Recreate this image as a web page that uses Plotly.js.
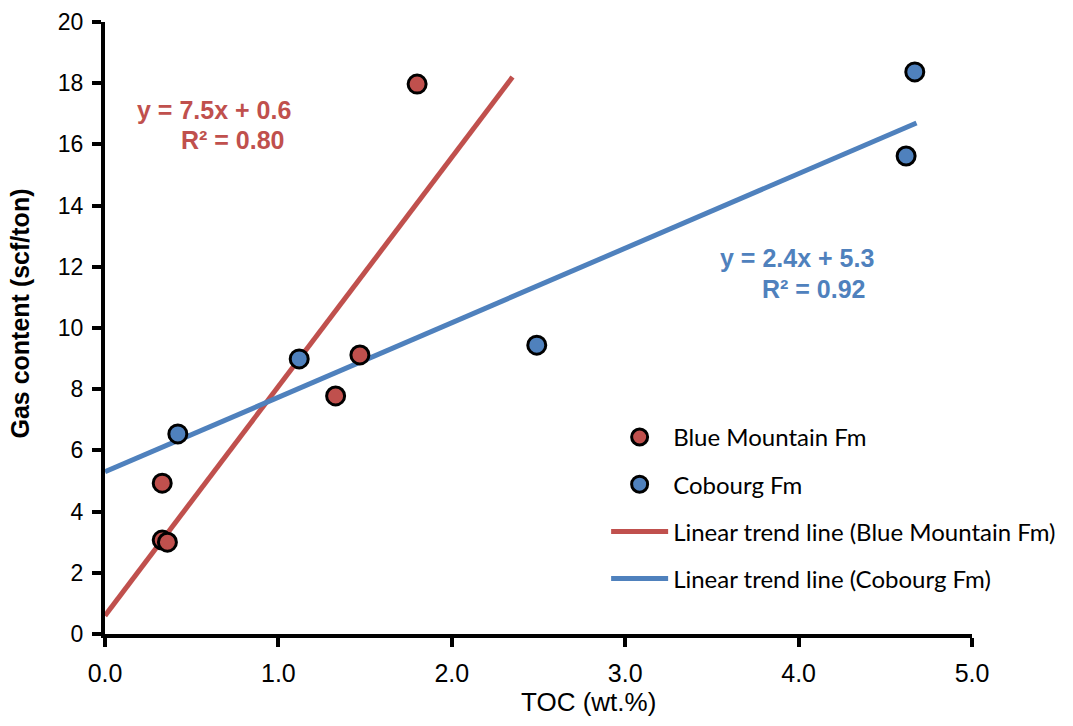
<!DOCTYPE html>
<html>
<head>
<meta charset="utf-8">
<script src="https://cdn.plot.ly/plotly-3.0.1.min.js"></script>
<style>html,body{margin:0;padding:0;background:#fff;}#chart{width:1073px;height:726px;}</style>
</head>
<body>
<div id="chart"></div>
<script>
// Blue Mountain Fm samples
const bmTOC = [0.33, 0.33, 0.36, 1.33, 1.47, 1.80];
const bmGas = [4.93, 3.07, 3.00, 7.78, 9.12, 17.97];
// Cobourg Fm samples
const cbTOC = [0.42, 1.12, 2.49, 4.62, 4.67];
const cbGas = [6.54, 8.99, 9.44, 15.62, 18.37];
// Trend lines (end points as drawn)
const bmTrendX = [0, 2.35];
const bmTrendY = [0.6, 18.2];
const cbTrendX = [0, 4.68];
const cbTrendY = [5.3, 16.7];
// Labels
const xTicks = [0, 1, 2, 3, 4, 5];
const xTickText = ["0.0", "1.0", "2.0", "3.0", "4.0", "5.0"];
const yTicks = [0, 2, 4, 6, 8, 10, 12, 14, 16, 18, 20];
const bmEqLines = ["y = 7.5x + 0.6", "R² = 0.80"];
const cbEqLines = ["y = 2.4x + 5.3", "R² = 0.92"];
const xTitle = "TOC (wt.%)";
const yTitle = "Gas content (scf/ton)";

const RED = "#c0504d", BLUE = "#4f81bd";
const legendFont = {family: "Lato, 'Open Sans', sans-serif", size: 24, color: "#000"};

const traces = [
  {x: bmTrendX, y: bmTrendY, mode: "lines", name: "Linear trend line (Blue Mountain Fm)",
   line: {color: RED, width: 5}, legendrank: 3, legendgroup: "c"},
  {x: cbTrendX, y: cbTrendY, mode: "lines", name: "Linear trend line (Cobourg Fm)",
   line: {color: BLUE, width: 5}, legendrank: 4, legendgroup: "d"},
  {x: bmTOC, y: bmGas, mode: "markers", name: "Blue Mountain Fm",
   marker: {color: RED, size: 18, line: {color: "#000", width: 3}}, legendrank: 1, legendgroup: "a"},
  {x: cbTOC, y: cbGas, mode: "markers", name: "Cobourg Fm",
   marker: {color: BLUE, size: 18, line: {color: "#000", width: 3}}, legendrank: 2, legendgroup: "b"}
];

function eqAnn(text, x, y, color) {
  return {x: x, y: y, xref: "x", yref: "y", text: "<b>" + text + "</b>", showarrow: false,
          xanchor: "left", yanchor: "middle", font: {size: 25, color: color}};
}

const layout = {
  width: 1073, height: 726,
  margin: {l: 105, r: 98, t: 22, b: 92},
  paper_bgcolor: "#fff", plot_bgcolor: "#fff",
  font: {family: "Arial, 'Liberation Sans', sans-serif", size: 22, color: "#000"},
  showlegend: true,
  legend: {x: 0.578, y: 0.358, xanchor: "left", yanchor: "top", font: legendFont,
           traceorder: "grouped", tracegroupgap: 13, bgcolor: "rgba(0,0,0,0)", itemwidth: 57},
  xaxis: {range: [0, 5], tickvals: xTicks, ticktext: xTickText, showgrid: false, zeroline: false,
          showline: true, linecolor: "#000", linewidth: 4, ticks: "outside", ticklen: 9, tickwidth: 4,
          tickcolor: "#000", tickfont: {size: 25}, ticklabelstandoff: 5},
  yaxis: {range: [0, 20], tickvals: yTicks, showgrid: false, zeroline: false,
          showline: true, linecolor: "#000", linewidth: 4, ticks: "outside", ticklen: 9, tickwidth: 4,
          tickcolor: "#000", tickfont: {size: 23}, ticklabelstandoff: 4},
  annotations: [
    eqAnn(bmEqLines[0], 0.175, 17.12, RED),
    eqAnn(bmEqLines[1], 0.428, 16.14, RED),
    eqAnn(cbEqLines[0], 3.537, 12.29, BLUE),
    eqAnn(cbEqLines[1], 3.778, 11.27, BLUE),
    {x: 0.5575, y: -0.111, xref: "paper", yref: "paper", text: xTitle, showarrow: false,
     xanchor: "center", yanchor: "middle", font: {size: 26}},
    {x: -0.0985, y: 0.523, xref: "paper", yref: "paper", text: "<b>" + yTitle + "</b>", showarrow: false,
     textangle: -90, xanchor: "center", yanchor: "middle", font: {size: 25}}
  ]
};

Plotly.newPlot("chart", traces, layout, {displayModeBar: false, staticPlot: true});
</script>
</body>
</html>
